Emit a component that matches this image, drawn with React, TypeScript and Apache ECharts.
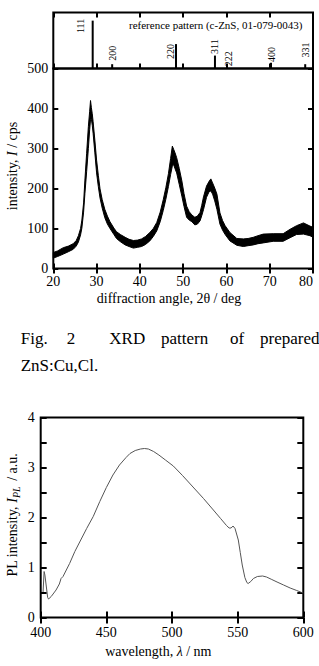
import React, { useEffect, useRef } from 'react';
import * as echarts from 'echarts';

// ---- Reference pattern (c-ZnS, 01-079-0043) ----
const refAngles = [29.1, 33.6, 48.35, 57.35, 60.4, 70.3, 78.2];
const refIntensities = [100, 9, 51, 27, 1, 12, 9];
const refLabels = ['111', '200', '220', '311', '222', '400', '331'];

// ---- XRD pattern (noise band: upper / lower envelope) ----
const xrdAngles = [
  20.0, 21.0, 22.3, 23.5, 24.6, 25.3, 25.8, 26.3, 26.6, 27.0, 27.3, 27.7, 28.1, 28.4, 28.6, 28.8, 29.0, 29.2, 29.6,
  30.0, 30.4, 30.8, 31.3, 31.9, 32.5, 33.1, 34.0, 34.6, 35.5, 36.6, 37.5, 38.5, 39.5, 40.4, 41.3, 42.3, 43.1, 43.9,
  44.7, 45.4, 46.0, 46.6, 47.1, 47.5, 47.8, 48.1, 48.5, 49.1, 49.7, 50.2, 50.8, 51.4, 52.0, 52.7, 53.3, 53.9, 54.3,
  54.7, 55.4, 56.0, 56.4, 56.8, 57.3, 57.8, 58.5, 59.1, 59.7, 60.8, 62.4, 63.9, 65.0, 66.2, 67.3, 68.5, 70.8, 73.1,
  74.7, 76.2, 77.8, 79.3, 80.0,
];
const xrdUpper = [
  40, 44, 52, 56, 62, 70, 82, 100, 121, 164, 221, 288, 355, 393, 420, 402, 387, 367, 321,
  271, 233, 199, 172, 148, 131, 117, 101, 92, 85, 78, 73, 70, 71, 74, 80, 90, 100, 115,
  141, 172, 202, 237, 275, 306, 298, 290, 277, 250, 219, 187, 156, 142, 134, 128, 131, 140, 158,
  179, 206, 218, 224, 214, 201, 186, 139, 120, 107, 90, 75, 74, 75, 78, 82, 86, 87, 87,
  98, 107, 114, 106, 103,
];
const xrdLower = [
  26, 30, 36, 42, 48, 56, 66, 84, 101, 141, 187, 242, 300, 347, 372, 373, 358, 338, 289,
  239, 205, 176, 151, 127, 111, 100, 85, 75, 67, 59, 55, 51, 53, 55, 60, 69, 80, 94,
  117, 145, 173, 205, 235, 256, 260, 250, 239, 210, 181, 155, 128, 121, 117, 109, 111, 119, 132,
  147, 178, 192, 194, 186, 169, 148, 111, 96, 85, 69, 58, 55, 57, 59, 62, 64, 68, 68,
  77, 85, 86, 82, 78,
];

// ---- PL spectrum ----
const plWavelengths = [
  401.8, 402.6, 403.2, 405.3, 406.0, 408, 411.7, 414.2, 415.5, 417, 422, 426, 430.5, 435, 440, 445, 450, 455, 460,
  465, 468, 472, 476, 479, 482, 486, 490, 495, 501, 508, 516, 524, 531.5, 537, 541.5, 543.5, 545, 546.5, 548,
  550.5, 552, 553.5, 555.5, 557, 558, 560, 562, 565, 569, 572, 576, 580, 585, 590, 595, 598.8, 600,
];
const plIntensities = [
  0.51, 0.92, 0.85, 0.40, 0.37, 0.42, 0.55, 0.67, 0.78, 0.82, 1.08, 1.32, 1.55, 1.78, 2.02, 2.32, 2.60, 2.85, 3.05,
  3.20, 3.28, 3.34, 3.37, 3.38, 3.37, 3.32, 3.25, 3.15, 3.03, 2.84, 2.61, 2.38, 2.15, 1.98, 1.84, 1.79, 1.79, 1.83, 1.78,
  1.55, 1.30, 1.05, 0.80, 0.70, 0.68, 0.72, 0.78, 0.82, 0.83, 0.81, 0.76, 0.71, 0.65, 0.59, 0.54, 0.50, 0.49,
];

// label placement (style): offset in px of label start from the top of its line
const refLabelOffsets = [
  [-12.4, 12.4], [0.5, -3.4], [-5.7, 15], [0, -1.6], [0.7, -1.8], [0.7, -0.7], [0.7, -6.8],
];

const SERIF = "'Liberation Serif', 'Times New Roman', serif";

export default function App() {
  const ref = useRef<HTMLDivElement>(null);
  useEffect(() => {
    if (!ref.current) return;
    const chart = echarts.init(ref.current, undefined, { renderer: 'svg' });
    const tick = (len = 5) => ({ show: true, inside: true, length: len, lineStyle: { color: '#000', width: 2 } });
    const noLine = { show: false };
    const lab = { color: '#000', fontSize: 14, fontFamily: SERIF };
    const hidden = { show: false };
    const gridBase = { show: true, borderColor: '#000', borderWidth: 2, backgroundColor: 'transparent', containLabel: false };

    const staticGraphics: any[] = [
      {
        type: 'text', x: 129, y: 25,
        style: { text: 'reference pattern (c-ZnS, 01-079-0043)', fontSize: 11, fontFamily: SERIF, fill: '#000', align: 'left', verticalAlign: 'middle' },
      },
      {
        type: 'text', x: 12.5, y: 166, rotation: Math.PI / 2,
        style: {
          text: 'intensity, {i|I} / cps', fontSize: 14, fontFamily: SERIF, fill: '#000', align: 'center', verticalAlign: 'middle',
          rich: { i: { fontStyle: 'italic', fontSize: 14, fontFamily: SERIF, fill: '#000' } },
        },
      },
      {
        type: 'text', x: 169, y: 298.3,
        style: { text: 'diffraction angle, 2θ / deg', fontSize: 14, fontFamily: SERIF, fill: '#000', align: 'center', verticalAlign: 'middle' },
      },
      ...[['Fig.', 20.7], ['2', 66.7], ['XRD', 109.3], ['pattern', 161], ['of', 230], ['prepared', 260]].map(([t, x]) => ({
        type: 'text', x: x as number, y: 338.3,
        style: { text: t as string, fontSize: 17, fontFamily: SERIF, fill: '#000', align: 'left', verticalAlign: 'middle' },
      })),
      {
        type: 'text', x: 20.7, y: 365,
        style: { text: 'ZnS:Cu,Cl.', fontSize: 17, fontFamily: SERIF, fill: '#000', align: 'left', verticalAlign: 'middle' },
      },
      {
        type: 'text', x: 12, y: 515, rotation: Math.PI / 2,
        style: {
          text: 'PL intensity, {i|I}{s|PL} / a.u.', fontSize: 14, fontFamily: SERIF, fill: '#000', align: 'center', verticalAlign: 'middle',
          rich: {
            i: { fontStyle: 'italic', fontSize: 14, fontFamily: SERIF, fill: '#000' },
            s: { fontStyle: 'italic', fontSize: 10, fontFamily: SERIF, fill: '#000', padding: [9, 2, 0, 0] },
          },
        },
      },
      {
        type: 'text', x: 158.3, y: 651.7,
        style: {
          text: 'wavelength, {i|λ} / nm', fontSize: 14, fontFamily: SERIF, fill: '#000', align: 'center', verticalAlign: 'middle',
          rich: { i: { fontStyle: 'italic', fontSize: 14, fontFamily: SERIF, fill: '#000' } },
        },
      },
    ];

    const xrdData = xrdAngles.map((a, i) => [a, xrdLower[i], xrdUpper[i]]);

    chart.setOption({
      animation: false,
      backgroundColor: '#fff',
      grid: [
        { ...gridBase, left: 53.3, top: 12.5, width: 259.7, height: 56 },
        { ...gridBase, left: 53.3, top: 68.5, width: 259.7, height: 200 },
        { ...gridBase, left: 40.7, top: 417.5, width: 262.6, height: 200 },
      ],
      xAxis: [
        { type: 'value', gridIndex: 0, min: 20, max: 80, interval: 10, position: 'bottom', axisLine: noLine, axisTick: tick(), axisLabel: hidden, splitLine: hidden },
        { type: 'value', gridIndex: 0, min: 20, max: 80, interval: 10, position: 'top', axisLine: noLine, axisTick: tick(), axisLabel: hidden, splitLine: hidden },
        { type: 'value', gridIndex: 1, min: 20, max: 80, interval: 10, position: 'bottom', axisLine: noLine, axisTick: tick(), axisLabel: { ...lab, margin: 6, alignMaxLabel: 'right' }, splitLine: hidden },
        { type: 'value', gridIndex: 1, min: 20, max: 80, interval: 10, position: 'top', axisLine: noLine, axisTick: tick(), axisLabel: hidden, splitLine: hidden },
        { type: 'value', gridIndex: 2, min: 400, max: 600, interval: 50, position: 'bottom', axisLine: noLine, axisTick: tick(6), axisLabel: { ...lab, margin: 8 }, splitLine: hidden },
        { type: 'value', gridIndex: 2, min: 400, max: 600, interval: 50, position: 'top', axisLine: noLine, axisTick: tick(6), axisLabel: hidden, splitLine: hidden },
      ],
      yAxis: [
        { type: 'value', gridIndex: 0, min: 0, max: 117, axisLine: noLine, axisTick: hidden, axisLabel: hidden, splitLine: hidden },
        { type: 'value', gridIndex: 1, min: 0, max: 500, interval: 100, position: 'left', axisLine: noLine, axisTick: tick(), axisLabel: { ...lab, margin: 5 }, splitLine: hidden },
        { type: 'value', gridIndex: 1, min: 0, max: 500, interval: 100, position: 'right', axisLine: noLine, axisTick: tick(), axisLabel: hidden, splitLine: hidden },
        {
          type: 'value', gridIndex: 2, min: 0, max: 4, interval: 0.5, position: 'left', axisLine: noLine, axisTick: tick(6),
          axisLabel: { ...lab, margin: 6, formatter: (v: number) => (Number.isInteger(v) ? String(v) : '') }, splitLine: hidden,
        },
        { type: 'value', gridIndex: 2, min: 0, max: 4, interval: 0.5, position: 'right', axisLine: noLine, axisTick: tick(6), axisLabel: hidden, splitLine: hidden },
      ],
      series: [
        {
          type: 'bar', xAxisIndex: 0, yAxisIndex: 0, barWidth: 2,
          data: refAngles.map((a, i) => [a, refIntensities[i]]),
          itemStyle: { color: '#000' },
        },
        {
          type: 'custom', xAxisIndex: 2, yAxisIndex: 1,
          data: xrdData,
          encode: { x: 0, y: [1, 2] },
          renderItem: (params: any, api: any) => {
            if (params.dataIndex !== 0) return null;
            const top = xrdData.map((d) => api.coord([d[0], d[2]]));
            const bottom = xrdData.map((d) => api.coord([d[0], d[1]])).reverse();
            return {
              type: 'polygon',
              shape: { points: [...top, ...bottom] },
              style: { fill: '#000', stroke: '#000', lineWidth: 1 },
            };
          },
        },
        {
          type: 'line', xAxisIndex: 4, yAxisIndex: 3, showSymbol: false, symbol: 'none',
          data: plWavelengths.map((w, i) => [w, plIntensities[i]]),
          lineStyle: { color: '#555', width: 1 },
        },
      ],
      graphic: staticGraphics,
    });

    const labelGraphics = refAngles.map((a, i) => {
      const p = chart.convertToPixel({ xAxisIndex: 0, yAxisIndex: 0 } as any, [a, refIntensities[i]]) as number[];
      const [dx, dy] = refLabelOffsets[i];
      return {
        type: 'text', x: p[0] + dx, y: p[1] + dy, rotation: Math.PI / 2,
        style: { text: refLabels[i], fontSize: 10, fontFamily: SERIF, fill: '#000', align: 'left', verticalAlign: 'middle' },
      };
    });
    chart.setOption({ graphic: [...staticGraphics, ...labelGraphics] });

    return () => chart.dispose();
  }, []);
  return <div ref={ref} style={{ position: 'absolute', left: 0, top: 0, width: 319, height: 666 }} />;
}
